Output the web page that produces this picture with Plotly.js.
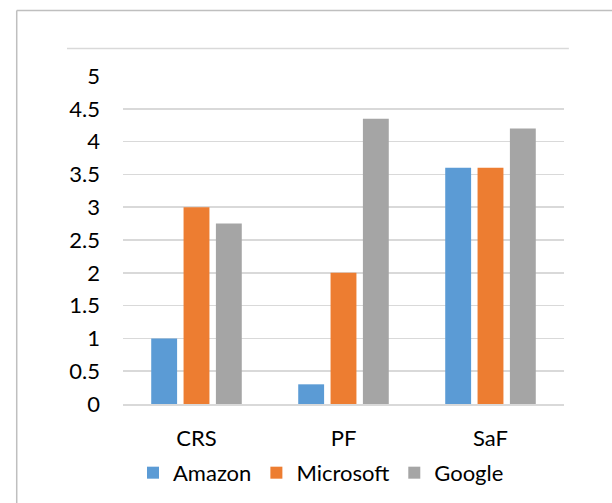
<!DOCTYPE html>
<html>
<head>
<meta charset="utf-8">
<script src="https://cdn.plot.ly/plotly-3.0.1.min.js"></script>
<style>html,body{margin:0;padding:0;background:#fff;}#chart{width:612px;height:503px;}</style>
</head>
<body>
<div id="chart"></div>
<script>
const categories = ["CRS", "PF", "SaF"];
const amazon = [1, 0.3, 3.6];
const microsoft = [3, 2, 3.6];
const google = [2.75, 4.35, 4.2];
const yTicks = [0, 0.5, 1, 1.5, 2, 2.5, 3, 3.5, 4, 4.5, 5];
const yTickText = ["0", "0.5", "1", "1.5", "2", "2.5", "3", "3.5", "4", "4.5", "5"];

const font = {family: "Lato, 'Open Sans', sans-serif", size: 22, color: "#000"};
const mk = (name, y, color) => ({
  type: "bar", name: name, x: categories, y: y,
  marker: {color: color, line: {width: 0}}
});
const data = [
  mk("Amazon", amazon, "#5b9bd5"),
  mk("Microsoft", microsoft, "#ed7d31"),
  mk("Google", google, "#a5a5a5")
];
const layout = {
  width: 612, height: 503,
  margin: {l: 123, r: 48, t: 76, b: 99, pad: 0, autoexpand: false},
  paper_bgcolor: "#fff", plot_bgcolor: "#fff",
  font: font,
  barmode: "group", bargap: 0.34, bargroupgap: 0.2,
  showlegend: true,
  legend: {orientation: "h", x: 0.449, xanchor: "center", y: -0.21, yanchor: "middle",
           font: font, itemwidth: 30, traceorder: "normal"},
  xaxis: {type: "category", showgrid: false, showline: true, linecolor: "#d9d9d9", linewidth: 1.5,
          ticks: "", tickfont: font, ticklabelstandoff: 14, zeroline: false, fixedrange: true,
          automargin: false},
  yaxis: {range: [0, 5], tickvals: yTicks, ticktext: yTickText, showgrid: true,
          gridcolor: "#d9d9d9", gridwidth: 1.5, zeroline: false, showline: false, ticks: "",
          tickfont: font, ticklabelstandoff: 22, fixedrange: true, automargin: false},
  shapes: [
    {type: "line", xref: "paper", yref: "paper", x0: -0.127, x1: 1.011, y0: 1.084, y1: 1.084,
     line: {color: "#d9d9d9", width: 1.5}},
    {type: "line", xref: "paper", yref: "paper", x0: -0.241, x1: 1.2, y0: 1.2, y1: 1.2,
     line: {color: "#bfbfbf", width: 1.5}},
    {type: "line", xref: "paper", yref: "paper", x0: -0.241, x1: -0.241, y0: 1.2, y1: -0.4,
     line: {color: "#bfbfbf", width: 1.5}}
  ]
};
Plotly.newPlot("chart", data, layout, {displayModeBar: false, staticPlot: true});
</script>
</body>
</html>
